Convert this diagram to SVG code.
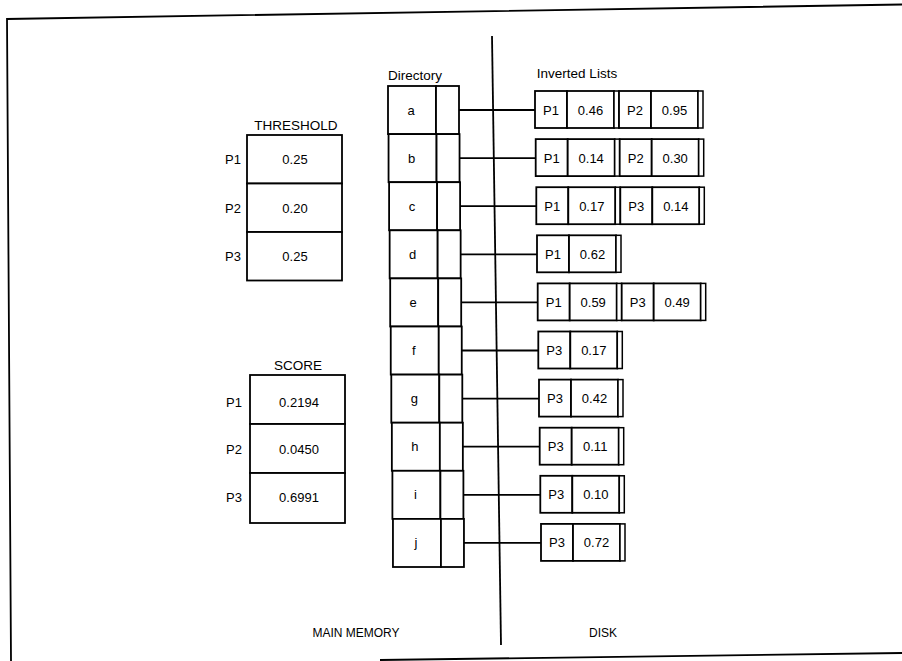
<svg xmlns="http://www.w3.org/2000/svg" width="902" height="661" viewBox="0 0 902 661">
<style>
text{font-family:"Liberation Sans",Arial,sans-serif;font-size:13px;fill:#000;text-anchor:middle}
.lbl{font-size:13.5px}
.small{font-size:12px}
rect{fill:#fff;stroke:#000;stroke-width:1.8}
.ln{stroke:#000;stroke-width:1.8;fill:none}
.strip{fill:#fff;stroke:#000;stroke-width:1.5}
</style>
<defs>
<g id="dcell">
<rect x="0" y="-24" width="48" height="48.1"/>
<rect x="48" y="-24" width="23" height="48.1"/>
</g>
</defs>
<rect width="902" height="661" style="fill:#fff;stroke:none"/>
<!-- frame -->
<polyline class="ln" points="902,4.5 7,19 11,661"/>
<line class="ln" x1="380" y1="660" x2="902" y2="653"/>
<line class="ln" x1="492" y1="36" x2="501" y2="645"/>
<text x="356" y="637" class="small">MAIN MEMORY</text>
<text x="603" y="637" class="small">DISK</text>

<g id="threshold">
<text x="296" y="130" class="lbl">THRESHOLD</text>
<rect x="247" y="135" width="95" height="48.5"/>
<rect x="247" y="183.5" width="95" height="48.5"/>
<rect x="247" y="232" width="95" height="48.5"/>
<text x="233" y="164">P1</text><text x="295" y="164">0.25</text>
<text x="233" y="212.5">P2</text><text x="295" y="212.5">0.20</text>
<text x="233" y="260.5">P3</text><text x="295" y="260.5">0.25</text>
</g>

<g id="score">
<text x="298" y="370" class="lbl">SCORE</text>
<rect x="250" y="375" width="95" height="49"/>
<rect x="250" y="424" width="95" height="49"/>
<rect x="250" y="473" width="95" height="50"/>
<text x="234" y="406.5">P1</text><text x="299" y="406.5">0.2194</text>
<text x="234" y="453.5">P2</text><text x="299" y="453.5">0.0450</text>
<text x="234" y="501.5">P3</text><text x="299" y="501.5">0.6991</text>
</g>

<g id="connectors">
<line class="ln" x1="447" y1="110" x2="535" y2="110"/>
<line class="ln" x1="447.5" y1="158.1" x2="535.7" y2="158.1"/>
<line class="ln" x1="448.1" y1="206.2" x2="536.3" y2="206.2"/>
<line class="ln" x1="448.6" y1="254.3" x2="537" y2="254.3"/>
<line class="ln" x1="449.2" y1="302.4" x2="537.7" y2="302.4"/>
<line class="ln" x1="449.7" y1="350.5" x2="538.3" y2="350.5"/>
<line class="ln" x1="450.3" y1="398.6" x2="539" y2="398.6"/>
<line class="ln" x1="450.8" y1="446.7" x2="539.7" y2="446.7"/>
<line class="ln" x1="451.4" y1="494.8" x2="540.3" y2="494.8"/>
<line class="ln" x1="452" y1="542.9" x2="541" y2="542.9"/>
</g>

<g id="directory">
<text x="415" y="80" class="lbl">Directory</text>
<g id="dir-a" transform="translate(388,110)"><use href="#dcell"/><text x="23" y="4.5">a</text></g>
<g id="dir-b" transform="translate(388.55,158.1)"><use href="#dcell"/><text x="23" y="4.5">b</text></g>
<g id="dir-c" transform="translate(389.1,206.2)"><use href="#dcell"/><text x="23" y="4.5">c</text></g>
<g id="dir-d" transform="translate(389.65,254.3)"><use href="#dcell"/><text x="23" y="4.5">d</text></g>
<g id="dir-e" transform="translate(390.2,302.4)"><use href="#dcell"/><text x="23" y="4.5">e</text></g>
<g id="dir-f" transform="translate(390.75,350.5)"><use href="#dcell"/><text x="23" y="4.5">f</text></g>
<g id="dir-g" transform="translate(391.3,398.6)"><use href="#dcell"/><text x="23" y="4.5">g</text></g>
<g id="dir-h" transform="translate(391.85,446.7)"><use href="#dcell"/><text x="23" y="4.5">h</text></g>
<g id="dir-i" transform="translate(392.4,494.8)"><use href="#dcell"/><text x="23" y="4.5">i</text></g>
<g id="dir-j" transform="translate(392.95,542.9)"><use href="#dcell"/><text x="23" y="4.5">j</text></g>
</g>

<text x="577" y="78" class="lbl">Inverted Lists</text>

<g id="list-a" transform="translate(535,110)">
<rect x="0" y="-19" width="32" height="37"/><rect x="32" y="-19" width="47" height="37"/><rect class="strip" x="79" y="-19" width="5" height="37"/>
<text x="16" y="4.5">P1</text><text x="55.5" y="4.5">0.46</text>
<rect x="84" y="-19" width="32" height="37"/><rect x="116" y="-19" width="47" height="37"/><rect class="strip" x="163" y="-19" width="5" height="37"/>
<text x="100" y="4.5">P2</text><text x="139.5" y="4.5">0.95</text>
</g>
<g id="list-b" transform="translate(535.7,158.1)">
<rect x="0" y="-19" width="32" height="37"/><rect x="32" y="-19" width="47" height="37"/><rect class="strip" x="79" y="-19" width="5" height="37"/>
<text x="16" y="4.5">P1</text><text x="55.5" y="4.5">0.14</text>
<rect x="84" y="-19" width="32" height="37"/><rect x="116" y="-19" width="47" height="37"/><rect class="strip" x="163" y="-19" width="5" height="37"/>
<text x="100" y="4.5">P2</text><text x="139.5" y="4.5">0.30</text>
</g>
<g id="list-c" transform="translate(536.3,206.2)">
<rect x="0" y="-19" width="32" height="37"/><rect x="32" y="-19" width="47" height="37"/><rect class="strip" x="79" y="-19" width="5" height="37"/>
<text x="16" y="4.5">P1</text><text x="55.5" y="4.5">0.17</text>
<rect x="84" y="-19" width="32" height="37"/><rect x="116" y="-19" width="47" height="37"/><rect class="strip" x="163" y="-19" width="5" height="37"/>
<text x="100" y="4.5">P3</text><text x="139.5" y="4.5">0.14</text>
</g>
<g id="list-d" transform="translate(537,254.3)">
<rect x="0" y="-19" width="32" height="37"/><rect x="32" y="-19" width="47" height="37"/><rect class="strip" x="79" y="-19" width="5" height="37"/>
<text x="16" y="4.5">P1</text><text x="55.5" y="4.5">0.62</text>
</g>
<g id="list-e" transform="translate(537.7,302.4)">
<rect x="0" y="-19" width="32" height="37"/><rect x="32" y="-19" width="47" height="37"/><rect class="strip" x="79" y="-19" width="5" height="37"/>
<text x="16" y="4.5">P1</text><text x="55.5" y="4.5">0.59</text>
<rect x="84" y="-19" width="32" height="37"/><rect x="116" y="-19" width="47" height="37"/><rect class="strip" x="163" y="-19" width="5" height="37"/>
<text x="100" y="4.5">P3</text><text x="139.5" y="4.5">0.49</text>
</g>
<g id="list-f" transform="translate(538.3,350.5)">
<rect x="0" y="-19" width="32" height="37"/><rect x="32" y="-19" width="47" height="37"/><rect class="strip" x="79" y="-19" width="5" height="37"/>
<text x="16" y="4.5">P3</text><text x="55.5" y="4.5">0.17</text>
</g>
<g id="list-g" transform="translate(539,398.6)">
<rect x="0" y="-19" width="32" height="37"/><rect x="32" y="-19" width="47" height="37"/><rect class="strip" x="79" y="-19" width="5" height="37"/>
<text x="16" y="4.5">P3</text><text x="55.5" y="4.5">0.42</text>
</g>
<g id="list-h" transform="translate(539.7,446.7)">
<rect x="0" y="-19" width="32" height="37"/><rect x="32" y="-19" width="47" height="37"/><rect class="strip" x="79" y="-19" width="5" height="37"/>
<text x="16" y="4.5">P3</text><text x="55.5" y="4.5">0.11</text>
</g>
<g id="list-i" transform="translate(540.3,494.8)">
<rect x="0" y="-19" width="32" height="37"/><rect x="32" y="-19" width="47" height="37"/><rect class="strip" x="79" y="-19" width="5" height="37"/>
<text x="16" y="4.5">P3</text><text x="55.5" y="4.5">0.10</text>
</g>
<g id="list-j" transform="translate(541,542.9)">
<rect x="0" y="-19" width="32" height="37"/><rect x="32" y="-19" width="47" height="37"/><rect class="strip" x="79" y="-19" width="5" height="37"/>
<text x="16" y="4.5">P3</text><text x="55.5" y="4.5">0.72</text>
</g>
</svg>
